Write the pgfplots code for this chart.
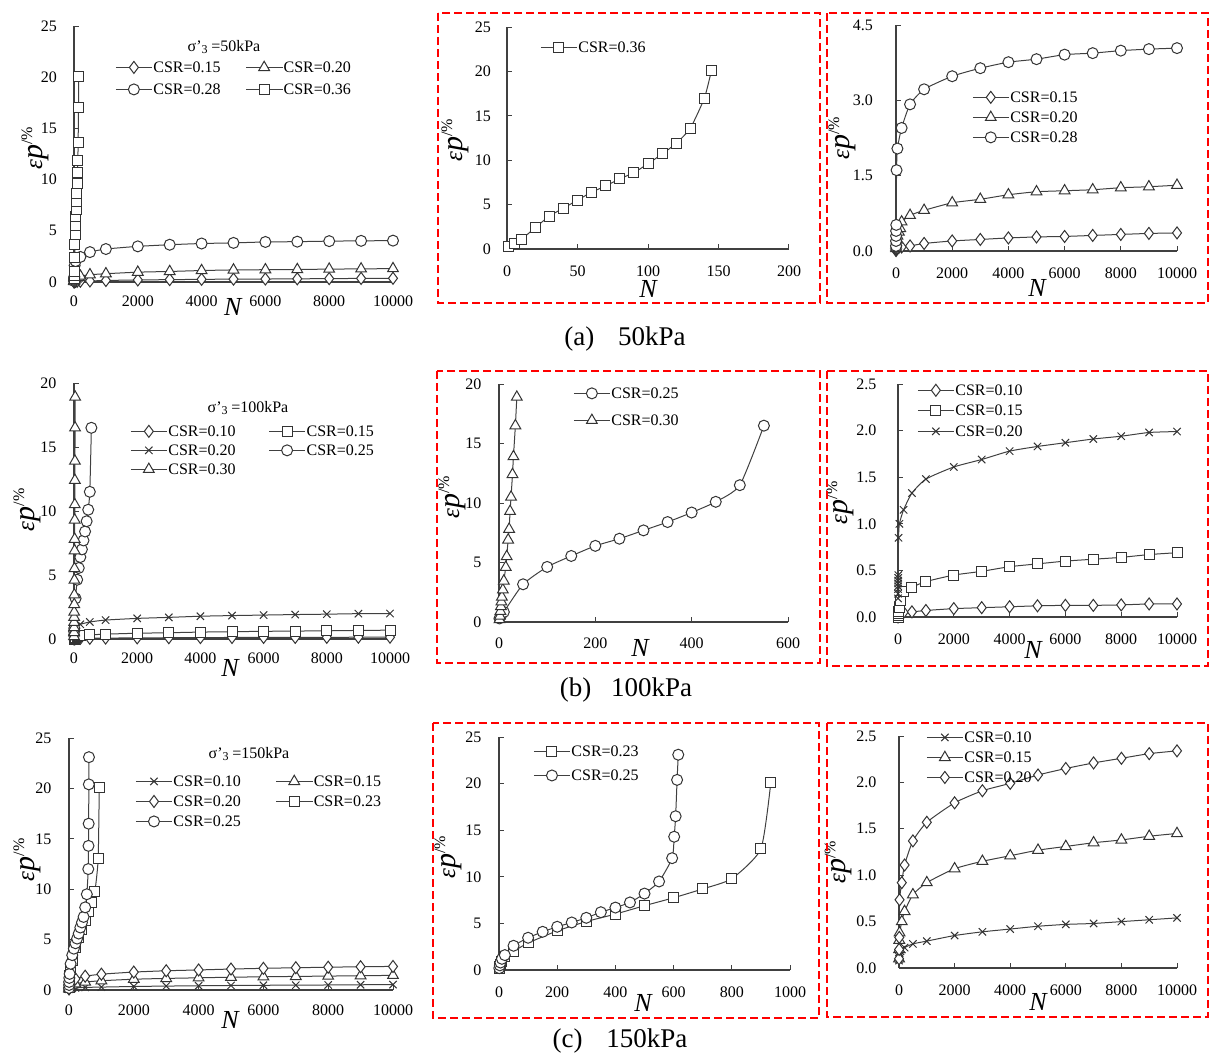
\documentclass[border=0pt]{standalone}
\usepackage{fontspec}
\setmainfont{Liberation Serif}
\usepackage{pgfplots}
\usepackage{pgfplotstable}
\pgfplotsset{compat=1.18}

% ---------------- 50 kPa ----------------
\pgfplotstableread{
N e
1 0.01
2 0.02
5 0.03
10 0.04
20 0.05
50 0.06
100 0.07
200 0.08
500 0.10
1000 0.15
2000 0.20
3000 0.23
4000 0.26
5000 0.28
6000 0.29
7000 0.31
8000 0.33
9000 0.35
10000 0.36
}\TaA
\pgfplotstableread{
N e
1 0.05
2 0.08
5 0.12
10 0.17
20 0.22
50 0.30
100 0.38
150 0.45
200 0.58
500 0.71
1000 0.81
2000 0.96
3000 1.03
4000 1.12
5000 1.18
6000 1.20
7000 1.22
8000 1.26
9000 1.28
10000 1.31
}\TaB
\pgfplotstableread{
N e
1 0.10
2 0.20
3 0.30
5 0.40
10 0.52
20 1.61
50 2.04
200 2.45
500 2.92
1000 3.22
2000 3.48
3000 3.64
4000 3.76
5000 3.82
6000 3.91
7000 3.94
8000 3.99
9000 4.02
10000 4.04
}\TaC
\pgfplotstableread{
N e
1 0.3
5 0.6
10 1.05
20 2.4
30 3.7
40 4.6
50 5.5
60 6.4
70 7.1
80 7.9
90 8.6
100 9.6
110 10.7
120 11.9
130 13.6
140 17.0
145 20.1
}\TaD
% ---------------- 100 kPa ----------------
\pgfplotstableread{
N e
1 0.00
10 0.02
50 0.04
200 0.05
500 0.055
1000 0.07
2000 0.09
3000 0.10
4000 0.11
5000 0.12
6000 0.125
7000 0.125
8000 0.13
9000 0.14
10000 0.14
}\TbA
\pgfplotstableread{
N e
1 0.00
2 0.02
5 0.04
10 0.06
50 0.10
100 0.18
200 0.27
500 0.32
1000 0.38
2000 0.45
3000 0.49
4000 0.54
5000 0.57
6000 0.60
7000 0.62
8000 0.64
9000 0.67
10000 0.69
}\TbB
\pgfplotstableread{
N e
1 0.20
2 0.25
3 0.30
4 0.33
5 0.36
6 0.39
8 0.42
10 0.45
20 0.85
50 1.00
200 1.15
500 1.33
1000 1.48
2000 1.61
3000 1.69
4000 1.78
5000 1.83
6000 1.87
7000 1.91
8000 1.94
9000 1.98
10000 1.99
}\TbC
\pgfplotstableread{
N e
1 0.30
5 0.60
10 0.84
50 3.17
100 4.63
150 5.55
200 6.40
250 7.00
300 7.70
350 8.40
400 9.20
450 10.10
500 11.50
550 16.50
}\TbD
\pgfplotstableread{
N e
1 0.2
2 0.5
3 0.9
4 1.3
5 1.7
6 2.1
8 2.7
10 3.45
14 4.6
16 5.5
19 6.9
21 7.8
23 9.3
25 10.5
28 12.4
30 13.9
34 16.5
37 18.9
}\TbE
% ---------------- 150 kPa ----------------
\pgfplotstableread{
N e
1 0.08
2 0.10
5 0.12
10 0.14
20 0.16
50 0.18
100 0.20
200 0.22
500 0.26
1000 0.29
2000 0.35
3000 0.39
4000 0.42
5000 0.45
6000 0.47
7000 0.48
8000 0.50
9000 0.52
10000 0.54
}\TcA
\pgfplotstableread{
N e
1 0.10
5 0.20
10 0.30
20 0.38
100 0.50
200 0.61
500 0.79
1000 0.92
2000 1.07
3000 1.15
4000 1.21
5000 1.27
6000 1.31
7000 1.35
8000 1.38
9000 1.42
10000 1.45
}\TcB
\pgfplotstableread{
N e
1 0.10
5 0.20
10 0.33
20 0.735
100 0.92
200 1.11
500 1.37
1000 1.57
2000 1.78
3000 1.91
4000 1.99
5000 2.08
6000 2.15
7000 2.21
8000 2.26
9000 2.31
10000 2.34
}\TcC
\pgfplotstableread{
N e
1 0.2
3 0.4
5 0.6
10 0.9
20 1.4
50 2.0
100 2.9
200 4.2
300 5.2
400 6.0
500 6.9
600 7.75
700 8.7
800 9.8
900 13.0
934 20.1
}\TcD
\pgfplotstableread{
N e
1 0.2
3 0.5
5 0.8
10 1.2
20 1.6
50 2.6
100 3.46
150 4.1
200 4.64
250 5.1
300 5.6
350 6.2
400 6.7
450 7.25
500 8.2
550 9.5
595 12.0
602 14.3
607 16.5
612 20.4
616 23.1
}\TcE

\newcommand{\eplab}{{\fontsize{12.5}{12.5}\selectfont\itshape ε}{\fontsize{15}{15}\selectfont\itshape p}\raisebox{5pt}{\fontsize{8}{8}\selectfont /\%}}
\newcommand{\Nlab}{{\fontsize{13}{13}\selectfont\itshape N}}

\pgfplotsset{
  base/.style={
    scale only axis, anchor=south west,
    axis lines=left, axis line style={-, draw=black!75, line width=0.6pt},
    tick align=inside, major tick length=2.5pt,
    tick style={draw=black!75, line width=0.5pt},
    ticklabel style={font=\fontsize{8}{9}\selectfont},
    /pgf/number format/assume math mode=true,
    /pgf/number format/set thousands separator={},
    scaled ticks=false, clip=false,
    xlabel={\Nlab}, ylabel={\eplab},
    xlabel style={anchor=center},
    ylabel style={anchor=center},
    legend cell align=left,
    legend style={draw=none, fill=none, inner sep=0pt, anchor=north west,
      font=\fontsize{8}{9}\selectfont,
      nodes={inner sep=0.5pt, text height=6pt, text depth=1pt}},
    legend image code/.code={\draw[mark repeat=2,mark phase=2] plot coordinates {(0pt,0pt) (9pt,0pt) (18pt,0pt)};},
    every axis plot/.append style={line width=0.5pt, draw=black!75, smooth, tension=0.35,
      mark options={fill=white, draw=black!80, line width=0.5pt, solid}},
  },
  sq/.style={mark=square*, mark size=2.5pt},
  ci/.style={mark=*, mark size=2.75pt},
  tr/.style={mark=triangle*, mark size=3.1pt},
  di/.style={mark=diamond*, mark size=3pt},
  xx/.style={mark=x, mark size=2.6pt},
  dec/.style={yticklabel style={/pgf/number format/fixed, /pgf/number format/fixed zerofill, /pgf/number format/precision=1}},
}

\begin{document}
\begin{tikzpicture}
\useasboundingbox (0pt,0pt) rectangle (605.5pt,-527.5pt);

% ================= (a) 50 kPa =================
\begin{axis}[base, at={(37pt,-141pt)}, width=159.5pt, height=128pt,
  xmin=0, xmax=10000, ymin=0, ymax=25, xtick={0,2000,...,10000}, ytick={0,5,...,25},
  xlabel style={at={(axis description cs:0.498,0)}, yshift=-12.5pt},
  ylabel style={at={(axis description cs:-0.122,0.523)}},
  yticklabel style={xshift=-5pt}, xticklabel style={yshift=-3.5pt},
  legend columns=2,
  legend style={at={(axis description cs:0.1285,0.871)}, row sep=3pt,
    /tikz/every even column/.append style={column sep=12pt}}]
\addplot[di] table {\TaA}; \addlegendentry{CSR=0.15}
\addplot[tr] table {\TaB}; \addlegendentry{CSR=0.20}
\addplot[ci] table {\TaC}; \addlegendentry{CSR=0.28}
\addplot[sq] table {\TaD}; \addlegendentry{CSR=0.36}
\end{axis}

\begin{axis}[base, at={(253.5pt,-124.5pt)}, width=141pt, height=111pt,
  xmin=0, xmax=200, ymin=0, ymax=25, xtick={0,50,...,200}, ytick={0,5,...,25},
  xlabel style={at={(axis description cs:0.5,0)}, yshift=-20pt},
  ylabel style={at={(axis description cs:-0.184,0.49)}},
  yticklabel style={xshift=-4.5pt}, xticklabel style={yshift=-5pt},
  legend style={at={(axis description cs:0.117,0.946)}}]
\addplot[sq] table {\TaD}; \addlegendentry{CSR=0.36}
\end{axis}

\begin{axis}[base, dec, at={(448pt,-125.5pt)}, width=140.5pt, height=113pt,
  xmin=0, xmax=10000, ymin=0, ymax=4.5, xtick={0,2000,...,10000}, ytick={0,1.5,3,4.5},
  xlabel style={at={(axis description cs:0.502,0)}, yshift=-18.5pt},
  ylabel style={at={(axis description cs:-0.192,0.5)}},
  yticklabel style={xshift=-8pt}, xticklabel style={yshift=-5pt},
  legend style={at={(axis description cs:0.270,0.717)}, row sep=2pt}]
\addplot[di] table {\TaA}; \addlegendentry{CSR=0.15}
\addplot[tr] table {\TaB}; \addlegendentry{CSR=0.20}
\addplot[ci] table {\TaC}; \addlegendentry{CSR=0.28}
\end{axis}

% ================= (b) 100 kPa =================
\begin{axis}[base, at={(37pt,-319.5pt)}, width=158pt, height=128pt,
  xmin=0, xmax=10000, ymin=0, ymax=20, xtick={0,2000,...,10000}, ytick={0,5,...,20},
  xlabel style={at={(axis description cs:0.494,0)}, yshift=-14.5pt},
  ylabel style={at={(axis description cs:-0.149,0.504)}},
  yticklabel style={xshift=-5.3pt}, xticklabel style={yshift=-3.5pt},
  legend columns=2,
  legend style={at={(axis description cs:0.177,0.844)}, row sep=1.5pt,
    /tikz/every even column/.append style={column sep=16pt}}]
\addplot[di] table {\TbA}; \addlegendentry{CSR=0.10}
\addplot[sq] table {\TbB}; \addlegendentry{CSR=0.15}
\addplot[xx] table {\TbC}; \addlegendentry{CSR=0.20}
\addplot[ci] table {\TbD}; \addlegendentry{CSR=0.25}
\addplot[tr] table {\TbE}; \addlegendentry{CSR=0.30}
\end{axis}

\begin{axis}[base, at={(249.5pt,-311pt)}, width=144.5pt, height=119pt,
  xmin=0, xmax=600, ymin=0, ymax=20, xtick={0,200,...,600}, ytick={0,5,...,20},
  xlabel style={at={(axis description cs:0.488,0)}, yshift=-13pt},
  ylabel style={at={(axis description cs:-0.163,0.525)}},
  yticklabel style={xshift=-5.3pt}, xticklabel style={yshift=-4.5pt},
  legend style={at={(axis description cs:0.256,0.996)}, row sep=5.5pt}]
\addplot[ci] table {\TbD}; \addlegendentry{CSR=0.25}
\addplot[tr] table {\TbE}; \addlegendentry{CSR=0.30}
\end{axis}

\begin{axis}[base, dec, at={(449pt,-308.5pt)}, width=139.5pt, height=116.5pt,
  xmin=0, xmax=10000, ymin=0, ymax=2.5, xtick={0,2000,...,10000}, ytick={0,0.5,...,2.5},
  xlabel style={at={(axis description cs:0.484,0)}, yshift=-16.5pt},
  ylabel style={at={(axis description cs:-0.208,0.49)}},
  yticklabel style={xshift=-7.3pt}, xticklabel style={yshift=-5pt},
  legend style={at={(axis description cs:0.068,1.009)}, row sep=2.25pt}]
\addplot[di] table {\TbA}; \addlegendentry{CSR=0.10}
\addplot[sq] table {\TbB}; \addlegendentry{CSR=0.15}
\addplot[xx] table {\TbC}; \addlegendentry{CSR=0.20}
\end{axis}

% ================= (c) 150 kPa =================
\begin{axis}[base, at={(34.5pt,-495pt)}, width=162pt, height=126pt,
  xmin=0, xmax=10000, ymin=0, ymax=25, xtick={0,2000,...,10000}, ytick={0,5,...,25},
  xlabel style={at={(axis description cs:0.497,0)}, yshift=-15pt},
  ylabel style={at={(axis description cs:-0.13,0.516)}},
  yticklabel style={xshift=-5.3pt}, xticklabel style={yshift=-4pt},
  legend columns=2,
  legend style={at={(axis description cs:0.204,0.861)}, row sep=2pt,
    /tikz/every even column/.append style={column sep=17pt}}]
\addplot[xx] table {\TcA}; \addlegendentry{CSR=0.10}
\addplot[tr] table {\TcB}; \addlegendentry{CSR=0.15}
\addplot[di] table {\TcC}; \addlegendentry{CSR=0.20}
\addplot[sq] table {\TcD}; \addlegendentry{CSR=0.23}
\addplot[ci] table {\TcE}; \addlegendentry{CSR=0.25}
\end{axis}

\begin{axis}[base, at={(249.5pt,-485pt)}, width=145.5pt, height=116.5pt,
  xmin=0, xmax=1000, ymin=0, ymax=25, xtick={0,200,...,1000}, ytick={0,5,...,25},
  xlabel style={at={(axis description cs:0.495,0)}, yshift=-16.5pt},
  ylabel style={at={(axis description cs:-0.175,0.485)}},
  yticklabel style={xshift=-5.3pt}, xticklabel style={yshift=-5pt},
  legend style={at={(axis description cs:0.117,0.974)}, row sep=4pt}]
\addplot[sq] table {\TcD}; \addlegendentry{CSR=0.23}
\addplot[ci] table {\TcE}; \addlegendentry{CSR=0.25}
\end{axis}

\begin{axis}[base, dec, at={(449.5pt,-484pt)}, width=139pt, height=116pt,
  xmin=0, xmax=10000, ymin=0, ymax=2.5, xtick={0,2000,...,10000}, ytick={0,0.5,...,2.5},
  xlabel style={at={(axis description cs:0.5,0)}, yshift=-17pt},
  ylabel style={at={(axis description cs:-0.219,0.457)}},
  yticklabel style={xshift=-7.8pt}, xticklabel style={yshift=-5pt},
  legend style={at={(axis description cs:0.097,1.03)}, row sep=2pt}]
\addplot[xx] table {\TcA}; \addlegendentry{CSR=0.10}
\addplot[tr] table {\TcB}; \addlegendentry{CSR=0.15}
\addplot[di] table {\TcC}; \addlegendentry{CSR=0.20}
\end{axis}

% ================= annotations (pixel coordinates) =================
\begin{scope}[x=0.5pt, y=-0.5pt]
  \tikzset{redbox/.style={draw=red, line width=1pt, dash pattern=on 4pt off 2pt}}
  \draw[redbox] (438,13) rectangle (820,303);
  \draw[redbox] (827,13) rectangle (1208,303);
  \draw[redbox] (437,371) rectangle (820,663);
  \draw[redbox] (827,371) rectangle (1208,666);
  \draw[redbox] (433,723) rectangle (819,1018);
  \draw[redbox] (827,723) rectangle (1208,1017);

  \node[font=\fontsize{8}{9}\selectfont] at (224,47) {σ\textquoteright\textsubscript{3}\,=50kPa};
  \node[font=\fontsize{8}{9}\selectfont] at (248,408) {σ\textquoteright\textsubscript{3}\,=100kPa};
  \node[font=\fontsize{8}{9}\selectfont] at (249,754) {σ\textquoteright\textsubscript{3}\,=150kPa};

  \node[font=\fontsize{13.5}{15}\selectfont] at (625,339) {(a)\hspace{12pt}50kPa};
  \node[font=\fontsize{13.5}{15}\selectfont] at (626,690) {(b)\hspace{10pt}100kPa};
  \node[font=\fontsize{13.5}{15}\selectfont] at (620,1041) {(c)\hspace{12pt}150kPa};
\end{scope}
\end{tikzpicture}
\end{document}
